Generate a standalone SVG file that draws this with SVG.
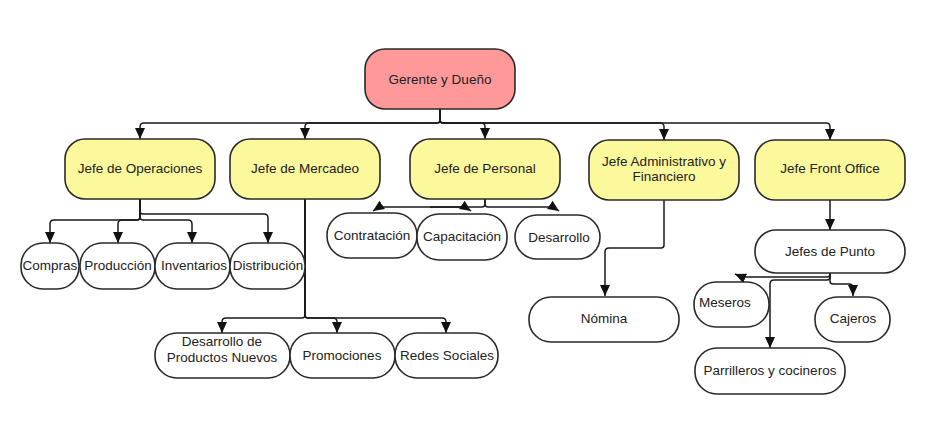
<svg xmlns="http://www.w3.org/2000/svg" width="950" height="426" viewBox="0 0 950 426">
<defs>
<marker id="ah" markerUnits="userSpaceOnUse" markerWidth="12" markerHeight="12" viewBox="0 0 12 12" refX="11" refY="6" orient="auto">
<path d="M0 1 L11 6 L0 11 Z" fill="#111"/>
</marker>
<style>
rect{stroke:#2a2a2a;stroke-width:1.6}
.top{fill:#ff9999}
.mid{fill:#fbf99c}
.low{fill:#fff}
text{font-family:"Liberation Sans",Arial,sans-serif;font-size:13.5px;fill:#222;text-anchor:middle;dominant-baseline:central}
#connectors path{fill:none;stroke:#1a1a1a;stroke-width:1.5}
.arr{marker-end:url(#ah)}
</style>
</defs>
<rect width="950" height="426" fill="#fff" style="stroke:none"/>
<g id="connectors">
<path class="arr" d="M440 109 V120 Q440 123 437 123 H144 Q140 123 140 127 V139"/>
<path class="arr" d="M440 109 V120 Q440 123 437 123 H309 Q305 123 305 127 V139"/>
<path class="arr" d="M440 109 V120 Q440 123 443 123 H481 Q485 123 485 127 V139"/>
<path class="arr" d="M440 109 V120 Q440 123 443 123 H660 Q664 123 664 127 V140"/>
<path class="arr" d="M440 109 V120 Q440 123 443 123 H826 Q830 123 830 127 V140"/>
<path class="arr" d="M140 199 V217 Q140 220 137 220 H54 Q50 220 50 224 V243"/>
<path class="arr" d="M140 199 V217 Q140 220 137 220 H122 Q118 220 118 224 V243"/>
<path class="arr" d="M140 199 V217 Q140 220 143 220 H188 Q192 220 192 224 V243"/>
<path class="arr" d="M140 199 V211 Q140 214 143 214 H264 Q268 214 268 218 V243"/>
<path class="arr" d="M305 199 V315 Q305 318 302 318 H226 Q222 318 222 322 V333"/>
<path class="arr" d="M305 199 V315 Q305 318 308 318 H333 Q337 318 337 322 V333"/>
<path class="arr" d="M305 199 V315 Q305 318 308 318 H442 Q446 318 446 322 V333"/>
<path class="arr" d="M485 199 V204 Q485 207 482 207 H379 L373 211"/>
<path class="arr" d="M430 207 H465 L471 211"/>
<path class="arr" d="M485 199 V204 Q485 207 488 207 H553 L559 211"/>
<path class="arr" d="M664 200 V245 Q664 248 661 248 H609 Q605 248 605 252 V296"/>
<path class="arr" d="M830 200 V230"/>
<path class="arr" d="M830 273 V274 Q830 277 827 277 H742 L735 274"/>
<path class="arr" d="M830 273 V277 Q830 280 827 280 H774 Q770 280 770 284 V348"/>
<path class="arr" d="M830 273 V281 Q830 284 833 284 H849 Q853 284 853 288 V296"/>
</g>
<g id="gerente"><rect class="top" x="365" y="49" width="150" height="60" rx="20"/><text x="440" y="79">Gerente y Dueño</text></g>
<g id="operaciones"><rect class="mid" x="65" y="139" width="150" height="60" rx="20"/><text x="140" y="168">Jefe de Operaciones</text></g>
<g id="mercadeo"><rect class="mid" x="230" y="139" width="150" height="60" rx="20"/><text x="305" y="168">Jefe de Mercadeo</text></g>
<g id="personal"><rect class="mid" x="410" y="139" width="150" height="60" rx="20"/><text x="485" y="168">Jefe de Personal</text></g>
<g id="administrativo"><rect class="mid" x="589" y="140" width="150" height="60" rx="20"/><text x="664" y="161">Jefe Administrativo y</text><text x="664" y="176">Financiero</text></g>
<g id="frontoffice"><rect class="mid" x="755" y="140" width="150" height="60" rx="20"/><text x="830" y="168">Jefe Front Office</text></g>
<g id="compras"><rect class="low" x="21" y="243" width="58" height="46" rx="22"/><text x="50" y="265">Compras</text></g>
<g id="produccion"><rect class="low" x="80" y="243" width="75" height="46" rx="22"/><text x="118" y="265">Producción</text></g>
<g id="inventarios"><rect class="low" x="155" y="243" width="75" height="46" rx="22"/><text x="194" y="265">Inventarios</text></g>
<g id="distribucion"><rect class="low" x="230" y="243" width="75" height="46" rx="22"/><text x="268" y="265">Distribución</text></g>
<g id="desarrollo-productos"><rect class="low" x="155" y="333" width="135" height="45" rx="22"/><text x="222" y="341">Desarrollo de</text><text x="222" y="357">Productos Nuevos</text></g>
<g id="promociones"><rect class="low" x="290" y="333" width="105" height="45" rx="22"/><text x="342" y="355">Promociones</text></g>
<g id="redes"><rect class="low" x="395" y="333" width="103" height="45" rx="22"/><text x="447" y="355">Redes Sociales</text></g>
<g id="contratacion"><rect class="low" x="327" y="213" width="90" height="45" rx="22"/><text x="372" y="235">Contratación</text></g>
<g id="capacitacion"><rect class="low" x="417" y="214" width="90" height="46" rx="22"/><text x="462" y="236">Capacitación</text></g>
<g id="desarrollo"><rect class="low" x="515" y="215" width="85" height="44" rx="22"/><text x="559" y="237">Desarrollo</text></g>
<g id="nomina"><rect class="low" x="529" y="297" width="150" height="45" rx="22"/><text x="604" y="318">Nómina</text></g>
<g id="jefes-punto"><rect class="low" x="755" y="230" width="150" height="43" rx="21"/><text x="830" y="251">Jefes de Punto</text></g>
<g id="meseros"><rect class="low" x="694" y="282" width="75" height="45" rx="22"/><text x="725" y="302">Meseros</text></g>
<g id="cajeros"><rect class="low" x="815" y="297" width="75" height="45" rx="22"/><text x="853" y="318">Cajeros</text></g>
<g id="parrilleros"><rect class="low" x="695" y="348" width="150" height="46" rx="22"/><text x="770" y="370">Parrilleros y cocineros</text></g>
</svg>
